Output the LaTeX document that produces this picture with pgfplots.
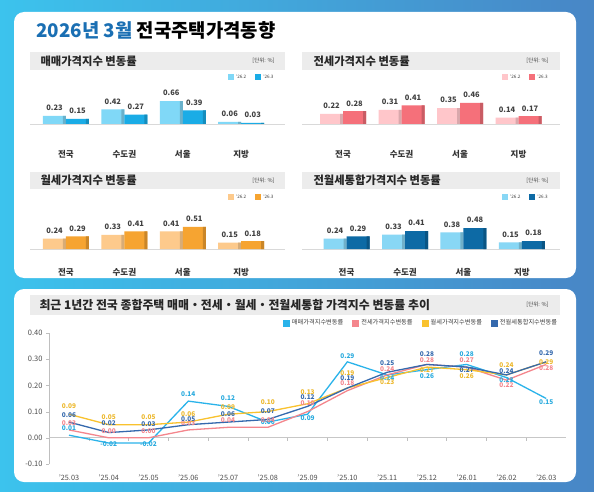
\documentclass[border=0pt]{standalone}
\usepackage{fontspec}
\setmainfont{Noto Sans CJK KR}
\usepackage{pgfplots}
\usepackage{pgfplotstable}
\pgfplotsset{compat=1.18}

\definecolor{frameL}{HTML}{3CC3ED}
\definecolor{frameR}{HTML}{4886C6}
\definecolor{titleblue}{HTML}{1A6FB3}
\definecolor{hdrgray}{HTML}{ECECEC}
\definecolor{saleA}{HTML}{80D8F7}
\definecolor{saleB}{HTML}{1AACE6}
\definecolor{jeonA}{HTML}{FFC6CA}
\definecolor{jeonB}{HTML}{F5707A}
\definecolor{wolA}{HTML}{FDCA8C}
\definecolor{wolB}{HTML}{F6A431}
\definecolor{tongA}{HTML}{88D7F5}
\definecolor{tongB}{HTML}{0D6AA5}
\definecolor{lsale}{HTML}{2AB3EA}
\definecolor{ljeon}{HTML}{F4868D}
\definecolor{lwol}{HTML}{F9C22E}
\definecolor{ltong}{HTML}{3569AD}

% monthly change by region, '26.2 (a) and '26.3 (b)
\pgfplotstableread{
x a b
0 0.23 0.15
1 0.42 0.27
2 0.66 0.39
3 0.06 0.03
}\saletab
\pgfplotstableread{
x a b
0 0.22 0.28
1 0.31 0.41
2 0.35 0.46
3 0.14 0.17
}\jeontab
\pgfplotstableread{
x a b
0 0.24 0.29
1 0.33 0.41
2 0.41 0.51
3 0.15 0.18
}\woltab
\pgfplotstableread{
x a b
0 0.24 0.29
1 0.33 0.41
2 0.38 0.48
3 0.15 0.18
}\tongtab

% national trend, '25.03 .. '26.03; d* = label offsets in pt
\pgfplotstableread{
x s j w t ds dj dw dt
0  0.01 0.03 0.09 0.06  7 7 8 7
1 -0.02 0.00 0.05 0.02 -1 7 8 9
2 -0.02 0.00 0.05 0.03 -1 7 8 6
3  0.14 0.03 0.06 0.05  7 7 8 6
4  0.12 0.04 0.09 0.06  8 7 7 8
5  0.06 0.04 0.10 0.07  0 7 9 8
6  0.09 0.10 0.13 0.12 -4 8 12 9
7  0.29 0.18 0.19 0.19  6 8 15 10
8  0.24 0.24 0.23 0.25 -3 6 -5 9
9  0.26 0.28 0.27 0.28 -6 4 -3 10
10 0.28 0.27 0.26 0.27 10 7 -6 -3
11 0.23 0.22 0.24 0.24 -3 -5 10 4
12 0.15 0.28 0.29 0.29 -4 -4 0 9
}\linetab

\pgfplotsset{
  /pgf/number format/assume math mode=true,
  barpanel/.style={
    scale only axis, height=30pt, ymin=0, clip=false,
    axis y line=none, axis x line=bottom,
    x axis line style={-, draw=black!15, line width=0.8pt},
    xtick={0,1,2,3}, xticklabels={전국,수도권,서울,지방},
    major tick length=0pt,
    xticklabel style={font=\bfseries\fontsize{8.5}{9}\selectfont, text=black!80},
    legend columns=2,
    legend style={draw=none, fill=none, anchor=west,
      font=\fontsize{4.6}{5}\selectfont, text=black!75, inner sep=0pt,
      /tikz/every even column/.append style={column sep=7pt}},
    legend image code/.code={\fill[##1,draw=none] (0pt,-2.8pt) rectangle (6pt,2.8pt);},
  },
  mainbar/.style={ybar, bar width=23pt, bar shift=#1, draw=none,
    nodes near coords={\pgfmathprintnumber[fixed,fixed zerofill,precision=2]{\pgfplotspointmeta}},
    every node near coord/.append style={font=\bfseries\fontsize{7.5}{8}\selectfont,
      text=black!75, xshift=#1, yshift=1.5pt}},
  edgebar/.style={ybar, bar width=3pt, bar shift=#1, draw=none, forget plot},
  linelab/.style={point meta=y,
    nodes near coords={\pgfmathprintnumber[fixed,fixed zerofill,precision=2]{\pgfplotspointmeta}},
    every node near coord/.append style={font=\bfseries\fontsize{6.5}{7}\selectfont,
      text=#1, anchor=center, inner sep=0pt, yshift=\dy pt}},
}

\begin{document}
\begin{tikzpicture}[x=1pt,y=1pt]
\useasboundingbox (0,0) rectangle (594,491);
\shade[left color=frameL, right color=frameR] (0,0) rectangle (594,491);
\fill[white, rounded corners=10pt] (14,213) rectangle (576,479);
\fill[white, rounded corners=10pt] (14,9) rectangle (576,202);

\node[anchor=west, font=\bfseries\fontsize{18.8}{19}\selectfont] at (33,461)
  {\textcolor{titleblue}{2026년 3월} 전국주택가격동향};

% panel headers
\fill[hdrgray] (30,421) rectangle (285,439);
\node[anchor=west, font=\bfseries\fontsize{11.3}{12}\selectfont, text=black!85] at (37,430) {매매가격지수 변동률};
\node[anchor=east, font=\fontsize{5.5}{6}\selectfont, text=black!75] at (278,430) {[단위: \%]};
\fill[hdrgray] (302,421) rectangle (560,439);
\node[anchor=west, font=\bfseries\fontsize{11.3}{12}\selectfont, text=black!85] at (310,430) {전세가격지수 변동률};
\node[anchor=east, font=\fontsize{5.5}{6}\selectfont, text=black!75] at (552,430) {[단위: \%]};
\fill[hdrgray] (30,302) rectangle (285,319);
\node[anchor=west, font=\bfseries\fontsize{11.3}{12}\selectfont, text=black!85] at (37,310.5) {월세가격지수 변동률};
\node[anchor=east, font=\fontsize{5.5}{6}\selectfont, text=black!75] at (278,310.5) {[단위: \%]};
\fill[hdrgray] (302,302) rectangle (560,319);
\node[anchor=west, font=\bfseries\fontsize{11.3}{12}\selectfont, text=black!85] at (310,310.5) {전월세통합가격지수 변동률};
\node[anchor=east, font=\fontsize{5.5}{6}\selectfont, text=black!75] at (552,310.5) {[단위: \%]};
\fill[hdrgray] (30,176) rectangle (560,196);
\node[anchor=west, font=\bfseries\fontsize{11.9}{12}\selectfont, text=black!85] at (36,186) {최근 1년간 전국 종합주택 매매・전세・월세・전월세통합 가격지수 변동률 추이};
\node[anchor=east, font=\fontsize{5.5}{6}\selectfont, text=black!75] at (552,186) {[단위: \%]};

% sale
\begin{axis}[barpanel, at={(30pt,367pt)}, anchor=south west, width=255pt,
  xmin=-0.616, xmax=3.75, ymax=0.861, xticklabel style={yshift=-23pt},
  legend style={at={(axis description cs:0.776,1.567)}}]
\addplot[mainbar=-11.5pt, fill=saleA] table[x=x,y=a]{\saletab};
\addlegendentry{'26.2}
\addplot[edgebar=-1.5pt, fill=saleA!82!black] table[x=x,y=a]{\saletab};
\addplot[mainbar=11.5pt, fill=saleB] table[x=x,y=b]{\saletab};
\addlegendentry{'26.3}
\addplot[edgebar=21.5pt, fill=saleB!82!black] table[x=x,y=b]{\saletab};
\end{axis}

% jeonse
\begin{axis}[barpanel, at={(302pt,367pt)}, anchor=south west, width=258pt,
  xmin=-0.701, xmax=3.709, ymax=0.657, xticklabel style={yshift=-23pt},
  legend style={at={(axis description cs:0.775,1.567)}}]
\addplot[mainbar=-11.5pt, fill=jeonA] table[x=x,y=a]{\jeontab};
\addlegendentry{'26.2}
\addplot[edgebar=-1.5pt, fill=jeonA!85!black] table[x=x,y=a]{\jeontab};
\addplot[mainbar=11.5pt, fill=jeonB] table[x=x,y=b]{\jeontab};
\addlegendentry{'26.3}
\addplot[edgebar=21.5pt, fill=jeonB!82!black] table[x=x,y=b]{\jeontab};
\end{axis}

% monthly rent
\begin{axis}[barpanel, at={(30pt,242pt)}, anchor=south west, width=255pt,
  xmin=-0.616, xmax=3.75, ymax=0.695, xticklabel style={yshift=-16pt},
  legend style={at={(axis description cs:0.776,1.733)}}]
\addplot[mainbar=-11.5pt, fill=wolA] table[x=x,y=a]{\woltab};
\addlegendentry{'26.2}
\addplot[edgebar=-1.5pt, fill=wolA!85!black] table[x=x,y=a]{\woltab};
\addplot[mainbar=11.5pt, fill=wolB] table[x=x,y=b]{\woltab};
\addlegendentry{'26.3}
\addplot[edgebar=21.5pt, fill=wolB!82!black] table[x=x,y=b]{\woltab};
\end{axis}

% combined rent
\begin{axis}[barpanel, at={(302pt,242pt)}, anchor=south west, width=258pt,
  xmin=-0.761, xmax=3.650, ymax=0.686, xticklabel style={yshift=-16pt},
  legend style={at={(axis description cs:0.775,1.733)}}]
\addplot[mainbar=-11.5pt, fill=tongA] table[x=x,y=a]{\tongtab};
\addlegendentry{'26.2}
\addplot[edgebar=-1.5pt, fill=tongA!82!black] table[x=x,y=a]{\tongtab};
\addplot[mainbar=11.5pt, fill=tongB] table[x=x,y=b]{\tongtab};
\addlegendentry{'26.3}
\addplot[edgebar=21.5pt, fill=tongB!80!black] table[x=x,y=b]{\tongtab};
\end{axis}

% trend lines
\begin{axis}[at={(49.1pt,27pt)}, anchor=south west, scale only axis,
  width=517pt, height=131pt, clip=false,
  xmin=-0.5, xmax=12.5, ymin=-0.1, ymax=0.4,
  axis x line=bottom, x axis line style={draw=none},
  axis y line=left, y axis line style={-, draw=black!25, line width=0.6pt},
  xtick={0,...,12},
  xticklabels={'25.03,'25.04,'25.05,'25.06,'25.07,'25.08,'25.09,'25.10,'25.11,'25.12,'26.01,'26.02,'26.03},
  xtick style={draw=none},
  xticklabel style={font=\fontsize{7.3}{8}\selectfont, text=black!70, yshift=-4pt},
  ytick={-0.1,0,0.1,0.2,0.3,0.4},
  ytick style={draw=black!25}, tick align=outside, major tick length=3pt,
  yticklabel style={font=\fontsize{7.5}{8}\selectfont, text=black!70},
  y tick label style={/pgf/number format/fixed, /pgf/number format/fixed zerofill, /pgf/number format/precision=2},
  extra y ticks={0}, extra y tick labels={},
  extra y tick style={grid=major, major grid style={draw=black!22, line width=0.7pt}},
  legend columns=4,
  legend style={at={(axis description cs:0.452,1.076)}, anchor=west, draw=none, fill=none,
    font=\fontsize{6.2}{7}\selectfont, text=black!75, inner sep=0pt,
    /tikz/every even column/.append style={column sep=7pt}},
  legend image code/.code={\fill[#1,draw=none] (0pt,-3.5pt) rectangle (7pt,3.5pt);},
]
\pgfplotsinvokeforeach{0.5,1.5,...,11.5}{
  \draw[black!25, line width=0.6pt] (axis cs:#1,0) -- (axis cs:#1,-0.012);
}
\addplot[color=lsale, line width=1.3pt, linelab=lsale!95!black,
  visualization depends on={\thisrow{ds} \as \dy}] table[x=x,y=s]{\linetab};
\addlegendentry{매매가격지수변동률}
\addplot[color=ljeon, line width=1.3pt, linelab=ljeon,
  visualization depends on={\thisrow{dj} \as \dy}] table[x=x,y=j]{\linetab};
\addlegendentry{전세가격지수변동률}
\addplot[color=lwol, line width=1.3pt, linelab=lwol!95!black,
  visualization depends on={\thisrow{dw} \as \dy}] table[x=x,y=w]{\linetab};
\addlegendentry{월세가격지수변동률}
\addplot[color=ltong, line width=1.3pt, linelab=ltong,
  visualization depends on={\thisrow{dt} \as \dy}] table[x=x,y=t]{\linetab};
\addlegendentry{전월세통합지수변동률}
\end{axis}
\end{tikzpicture}
\end{document}
